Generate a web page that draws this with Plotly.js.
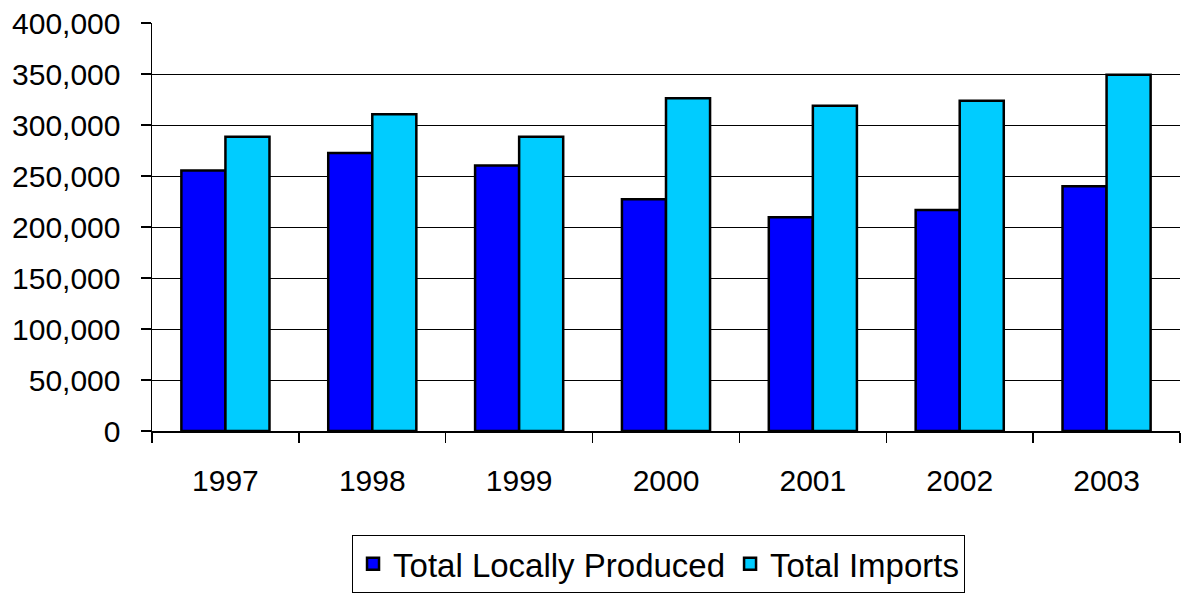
<!DOCTYPE html>
<html>
<head>
<meta charset="utf-8">
<script src="https://cdn.plot.ly/plotly-3.0.1.min.js"></script>
<style>html,body{margin:0;padding:0;background:#fff;}#chart{width:1181px;height:597px;}</style>
</head>
<body>
<div id="chart"></div>
<script>
const years = ["1997","1998","1999","2000","2001","2002","2003"];
const locallyProduced = [255300, 272600, 260200, 227200, 209500, 216700, 240000];
const imports = [288400, 310600, 288400, 326300, 318800, 323700, 349200];
const yTicks = [0, 50000, 100000, 150000, 200000, 250000, 300000, 350000, 400000];

const font = {family: "Liberation Sans, Arial, sans-serif", size: 30, color: "#000"};
const legendFont = {family: "Liberation Sans, Arial, sans-serif", size: 33, color: "#000"};

const traces = [
  {type: "bar", name: "Total Locally Produced", x: years, y: locallyProduced,
   marker: {color: "#0000FF", line: {color: "#000", width: 2.5}}},
  {type: "bar", name: "Total Imports", x: years, y: imports,
   marker: {color: "#00CCFF", line: {color: "#000", width: 2.5}}}
];

const layout = {
  width: 1181, height: 597,
  margin: {l: 152, r: 1, t: 23, b: 166, pad: 0},
  paper_bgcolor: "#fff", plot_bgcolor: "#fff",
  font: font,
  barmode: "group", bargap: 0.4, bargroupgap: 0,
  showlegend: true,
  legend: {orientation: "h", xref: "container", yref: "container",
    x: 0.5576, xanchor: "center", y: 0.104, yanchor: "top",
    bordercolor: "#000", borderwidth: 1, bgcolor: "#fff",
    font: legendFont, itemwidth: 30, tracegroupgap: 0},
  xaxis: {type: "category", showline: true, linecolor: "#000", linewidth: 1.5,
    ticks: "outside", tickson: "boundaries", ticklen: 10, tickcolor: "#000", tickwidth: 1.5,
    ticklabelstandoff: 22, tickfont: font, showgrid: false, zeroline: false},
  yaxis: {range: [0, 400000], tickvals: yTicks, tickformat: ",d",
    showline: true, linecolor: "#000", linewidth: 1.5,
    ticks: "outside", ticklen: 10, tickcolor: "#000", tickwidth: 1.5,
    ticklabelstandoff: 14, tickfont: font,
    showgrid: true, gridcolor: "#000", gridwidth: 1, zeroline: false}
};

Plotly.newPlot("chart", traces, layout, {displayModeBar: false, staticPlot: true});
</script>
</body>
</html>
